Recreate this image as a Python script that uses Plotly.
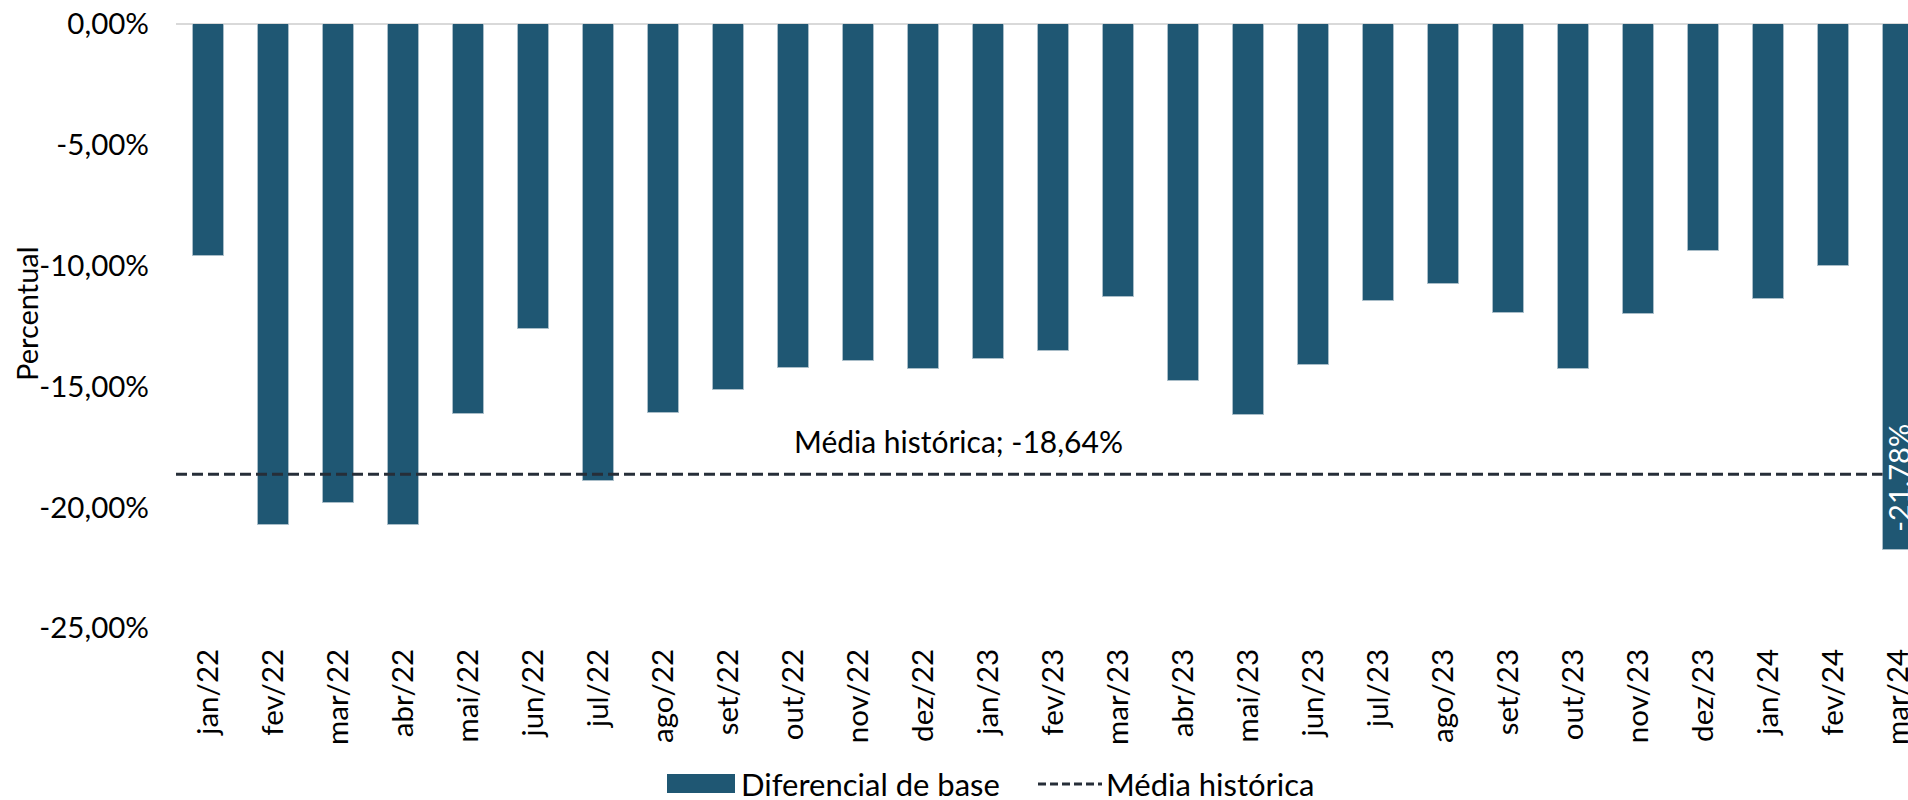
import plotly.graph_objects as go

categories = ["jan/22", "fev/22", "mar/22", "abr/22", "mai/22", "jun/22", "jul/22",
              "ago/22", "set/22", "out/22", "nov/22", "dez/22", "jan/23", "fev/23",
              "mar/23", "abr/23", "mai/23", "jun/23", "jul/23", "ago/23", "set/23",
              "out/23", "nov/23", "dez/23", "jan/24", "fev/24", "mar/24"]
diferencial = [-9.61, -20.72, -19.82, -20.72, -16.15, -12.63, -18.91,
               -16.10, -15.14, -14.24, -13.93, -14.29, -13.88, -13.53,
               -11.32, -14.79, -16.20, -14.13, -11.47, -10.76, -11.97,
               -14.29, -12.02, -9.41, -11.37, -10.01, -21.78]
media_historica = -18.64
y_tick_vals = [0, -5, -10, -15, -20, -25]
y_tick_text = ["0,00%", "-5,00%", "-10,00%", "-15,00%", "-20,00%", "-25,00%"]


def fmt(v):
    return f"{v:.2f}".replace(".", ",") + "%"


BAR = "#1F5773"
LINE = "#262E38"
FONT = "Lato"
FS = 29.5
W, H = 1908, 800
ML, MT, MB, MR = 176, 24, 172, 0
cat_px = 65.0
plot_w = W - ML - MR
plot_h = H - MT - MB
x_max = -0.5 + plot_w / cat_px
bar_w = 0.49
n = len(categories)

fig = go.Figure()
fig.add_trace(go.Bar(
    x=list(range(n)), y=diferencial, width=bar_w,
    marker=dict(color=BAR, line=dict(color="#A9BDC8", width=1)),
    name="Diferencial de base", showlegend=False,
))
fig.add_trace(go.Scatter(
    x=[-0.5, (n - 1) - bar_w / 2], y=[media_historica, media_historica],
    mode="lines", line=dict(color=LINE, width=3, dash="11px,5px"),
    name="Média histórica", showlegend=False,
))

# value label on last bar
fig.add_annotation(
    x=n - 1, y=diferencial[-1], text=fmt(diferencial[-1]), textangle=-90,
    showarrow=False, xanchor="center", yanchor="bottom", yshift=16,
    font=dict(family=FONT, size=29, color="white"),
)
# mean label
fig.add_annotation(
    x=(958 - ML) / plot_w, xref="paper", y=media_historica,
    text=f"Média histórica; {fmt(media_historica)}",
    showarrow=False, xanchor="center", yanchor="middle", yshift=33,
    font=dict(family=FONT, size=30, color="#000"),
)


def px_x(p):
    return (p - ML) / plot_w


def px_y(p):
    return (H - MB - p) / plot_h


# y-axis title
fig.add_annotation(x=px_x(26), y=px_y(314), xref="paper", yref="paper",
                   text="Percentual", textangle=-90, showarrow=False,
                   xanchor="center", yanchor="middle",
                   font=dict(family=FONT, size=29, color="#000"))

# legend
fig.add_shape(type="rect", xref="paper", yref="paper",
              x0=px_x(667), x1=px_x(735), y0=px_y(793), y1=px_y(774),
              fillcolor=BAR, line=dict(width=0))
fig.add_annotation(x=px_x(739), y=px_y(784), xref="paper", yref="paper",
                   text="Diferencial de base", showarrow=False,
                   xanchor="left", yanchor="middle",
                   font=dict(family=FONT, size=31, color="#000"))
fig.add_shape(type="line", xref="paper", yref="paper",
              x0=px_x(1038), x1=px_x(1102), y0=px_y(784), y1=px_y(784),
              line=dict(color=LINE, width=3, dash="8px,4px"))
fig.add_annotation(x=px_x(1104), y=px_y(784), xref="paper", yref="paper",
                   text="Média histórica", showarrow=False,
                   xanchor="left", yanchor="middle",
                   font=dict(family=FONT, size=31, color="#000"))

fig.update_layout(
    width=W, height=H,
    margin=dict(l=ML, r=MR, t=MT, b=MB, autoexpand=False),
    paper_bgcolor="white", plot_bgcolor="white",
    font=dict(family=FONT, size=FS, color="#000"),
    bargap=0,
    xaxis=dict(
        range=[-0.5, x_max], tickmode="array",
        tickvals=list(range(n)), ticktext=categories,
        tickangle=-90, showgrid=False, zeroline=False, showline=False,
        ticks="", ticklabelstandoff=14, automargin=False,
        ticklabeloverflow="allow",
        tickfont=dict(family=FONT, size=FS, color="#000"),
    ),
    yaxis=dict(
        range=[-25, 0], tickmode="array", tickvals=y_tick_vals,
        ticktext=y_tick_text, showgrid=False, zeroline=True,
        zerolinecolor="#D9D9D9", zerolinewidth=2, showline=False,
        ticks="", ticklabelstandoff=26, automargin=False,
        tickfont=dict(family=FONT, size=FS, color="#000"),
    ),
)

fig.write_html("out.html", config={"displayModeBar": False},
               post_script="document.body.style.margin='0';document.body.style.overflow='hidden';")
